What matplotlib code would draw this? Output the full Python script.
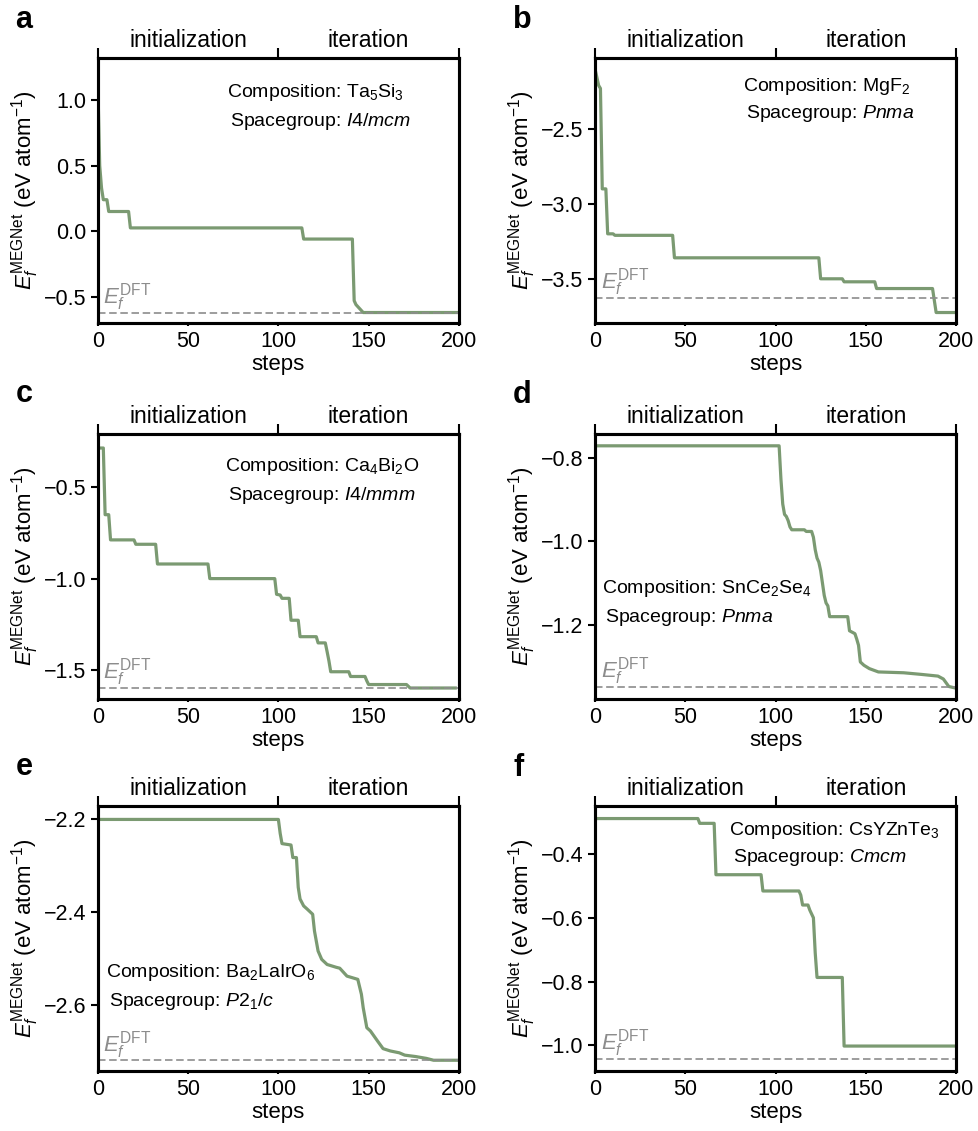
import matplotlib
matplotlib.use('Agg')
import matplotlib.pyplot as plt

matplotlib.rc('font', family='Liberation Sans', size=15.5)
matplotlib.rcParams['mathtext.fontset'] = 'custom'
matplotlib.rcParams['mathtext.rm'] = 'Liberation Sans'
matplotlib.rcParams['mathtext.it'] = 'Liberation Sans:italic'
matplotlib.rcParams['mathtext.bf'] = 'Liberation Sans:bold'

line_color = '#7b9a72'
dft_color = '#8c8c8c'

# best energy so far vs. step, one list per structure
a_steps = [0, 1, 2, 3, 5, 6, 17, 18, 113, 114, 141, 142, 143, 145, 147, 199]
a_energy = [1.10, 0.50, 0.33, 0.24, 0.24, 0.15, 0.15, 0.025, 0.025, -0.06, -0.06,
            -0.53, -0.56, -0.59, -0.62, -0.62]
a_dft = -0.62

b_steps = [0, 2, 3, 4, 6, 7, 10, 11, 43, 44, 124, 125, 137, 138, 155, 156, 187, 189, 199]
b_energy = [-2.10, -2.21, -2.23, -2.90, -2.90, -3.20, -3.20, -3.21, -3.21, -3.36, -3.36,
            -3.50, -3.50, -3.52, -3.52, -3.565, -3.565, -3.725, -3.725]
b_dft = -3.627

c_steps = [0, 3, 4, 6, 7, 20, 21, 32, 33, 61, 62, 98, 99, 101, 102, 106, 107, 111, 112,
           121, 122, 126, 127, 128, 129, 139, 140, 148, 149, 150, 171, 173, 198]
c_energy = [-0.285, -0.285, -0.65, -0.65, -0.788, -0.788, -0.812, -0.812, -0.92, -0.92,
            -1.0, -1.0, -1.086, -1.09, -1.108, -1.108, -1.228, -1.228, -1.318, -1.318,
            -1.352, -1.352, -1.40, -1.45, -1.51, -1.51, -1.536, -1.536, -1.56, -1.58,
            -1.58, -1.599, -1.599]
c_dft = -1.599

d_steps = [0, 102, 103, 104, 105, 106, 107, 108, 109, 116, 117, 120, 121, 122, 123, 124,
           125, 126, 127, 128, 129, 130, 140, 141, 144, 145, 146, 147, 149, 152, 157, 171,
           181, 190, 193, 196, 199]
d_energy = [-0.770, -0.770, -0.85, -0.91, -0.935, -0.94, -0.95, -0.965, -0.972, -0.972,
            -0.976, -0.976, -0.99, -1.02, -1.04, -1.05, -1.07, -1.10, -1.13, -1.148,
            -1.155, -1.181, -1.181, -1.215, -1.222, -1.235, -1.25, -1.29, -1.298, -1.306,
            -1.314, -1.316, -1.320, -1.324, -1.331, -1.349, -1.352]
d_dft = -1.350

e_steps = [0, 100, 101, 102, 107, 108, 110, 111, 112, 114, 116, 119, 120, 122, 124, 127,
           132, 134, 138, 144, 146, 147, 149, 151, 153, 155, 158, 162, 167, 170, 176, 182,
           186, 199]
e_energy = [-2.2, -2.2, -2.23, -2.252, -2.255, -2.282, -2.282, -2.346, -2.371, -2.386,
            -2.393, -2.404, -2.44, -2.483, -2.501, -2.512, -2.518, -2.520, -2.537, -2.544,
            -2.576, -2.605, -2.648, -2.655, -2.666, -2.677, -2.693, -2.698, -2.702, -2.707,
            -2.710, -2.714, -2.718, -2.718]
e_dft = -2.718

f_steps = [0, 57, 58, 66, 67, 92, 93, 113, 114, 115, 118, 119, 121, 122, 123, 137, 138, 199]
f_energy = [-0.289, -0.289, -0.304, -0.304, -0.465, -0.465, -0.516, -0.516, -0.529, -0.56,
            -0.56, -0.576, -0.60, -0.71, -0.787, -0.787, -1.002, -1.002]
f_dft = -1.0415

letters = ['a', 'b', 'c', 'd', 'e', 'f']
compositions = ['Ta$_5$Si$_3$', 'MgF$_2$', 'Ca$_4$Bi$_2$O', 'SnCe$_2$Se$_4$',
                'Ba$_2$LaIrO$_6$', 'CsYZnTe$_3$']
spacegroups = ['$\\mathit{I4/mcm}$', '$\\mathit{Pnma}$', '$\\mathit{I4/mmm}$',
               '$\\mathit{Pnma}$', '$\\mathit{P}$2$_1$/$\\mathit{c}$', '$\\mathit{Cmcm}$']
all_steps = [a_steps, b_steps, c_steps, d_steps, e_steps, f_steps]
all_energy = [a_energy, b_energy, c_energy, d_energy, e_energy, f_energy]
all_dft = [a_dft, b_dft, c_dft, d_dft, e_dft, f_dft]
yticks = [[-0.5, 0.0, 0.5, 1.0], [-3.5, -3.0, -2.5], [-1.5, -1.0, -0.5],
          [-1.2, -1.0, -0.8], [-2.6, -2.4, -2.2], [-1.0, -0.8, -0.6, -0.4]]
ylims = [(-0.70, 1.32), (-3.795, -2.027), (-1.659, -0.208),
         (-1.379, -0.7415), (-2.741, -2.171), (-1.080, -0.2495)]

# axes boxes in figure fractions, text anchors in axes fractions
boxes = [[0.100, 0.7144, 0.3687, 0.2343], [0.6078, 0.7144, 0.3687, 0.2343],
         [0.100, 0.3820, 0.3687, 0.2343], [0.6078, 0.3820, 0.3687, 0.2343],
         [0.100, 0.0531, 0.3687, 0.2343], [0.6078, 0.0531, 0.3687, 0.2343]]
comp_pos = [(0.357, 0.853), (0.409, 0.875), (0.352, 0.860),
            (0.019, 0.400), (0.022, 0.355), (0.370, 0.891)]
sg_pos = [(0.366, 0.743), (0.417, 0.773), (0.360, 0.751),
          (0.028, 0.291), (0.030, 0.245), (0.381, 0.790)]
letter_pos = [(15, 28), (513, 28), (16, 402), (513, 403), (16, 775), (513, 776)]

fig = plt.figure(figsize=(9.79, 11.31), dpi=100)

for i in range(6):
    ax = fig.add_axes(boxes[i])
    ax.plot(all_steps[i], all_energy[i], c=line_color, lw=2.3, zorder=2)
    ax.axhline(all_dft[i], c=dft_color, lw=1.2, ls=(0, (4.5, 2.2)), zorder=3)
    ax.annotate('$E_f^{\\mathrm{DFT}}$', xy=(0, all_dft[i]), xytext=(4, 6.5),
                textcoords='offset points', color=dft_color, fontsize=16,
                va='baseline', ha='left')

    ax.set_xlim(0, 200)
    ax.set_ylim(*ylims[i])
    ax.set_xticks([0, 50, 100, 150, 200])
    ax.set_yticks(yticks[i])
    ax.tick_params(axis='y', length=5, width=1.5, pad=3.5)
    ax.tick_params(axis='x', length=2, width=1.5, pad=4)
    for sp in ax.spines.values():
        sp.set_linewidth(2.2)

    ax.set_xlabel('steps', fontsize=16, labelpad=1)
    ax.set_ylabel('$E_f^{\\mathrm{MEGNet}}$ (eV atom$^{-1}$)', fontsize=16, labelpad=2)

    ax.text(comp_pos[i][0], comp_pos[i][1], 'Composition: ' + compositions[i],
            transform=ax.transAxes, fontsize=14, va='baseline', ha='left')
    ax.text(sg_pos[i][0], sg_pos[i][1], 'Spacegroup: ' + spacegroups[i],
            transform=ax.transAxes, fontsize=14, va='baseline', ha='left')

    # phase markers along the top
    top = ax.twiny()
    top.set_xlim(0, 200)
    top.set_xticks([0, 100, 200])
    top.set_xticklabels([])
    top.set_xticks([50, 150], minor=True)
    top.set_xticklabels(['initialization', 'iteration'], minor=True, fontsize=16.5)
    top.tick_params(which='major', length=7, width=1.5, direction='out')
    top.tick_params(which='minor', length=0, pad=4.5)
    for sp in top.spines.values():
        sp.set_linewidth(2.2)

    fig.text(letter_pos[i][0] / 979, 1 - letter_pos[i][1] / 1131, letters[i],
             fontsize=22, fontweight='bold', va='baseline', ha='left')

plt.savefig('out.png', dpi=100)
